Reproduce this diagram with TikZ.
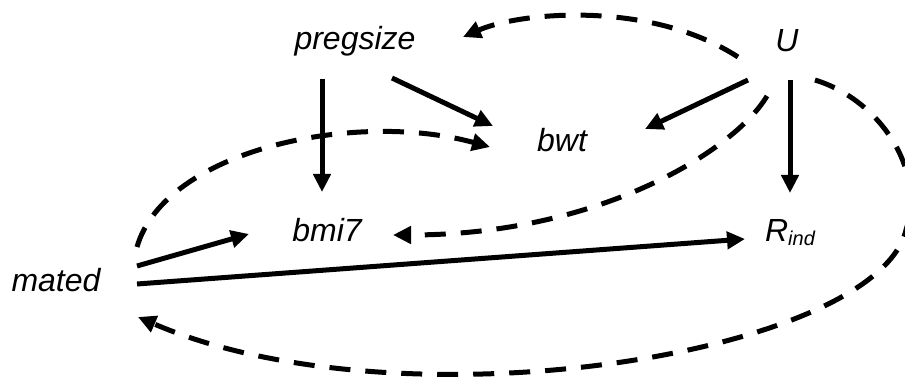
\documentclass[tikz,border=0pt]{standalone}
\usepackage{fontspec}
\setmainfont{Liberation Sans}
\usetikzlibrary{arrows.meta}
\tikzset{
  lbl/.style={font=\itshape\fontsize{32}{38}\selectfont, inner sep=0pt, anchor=base},
  edge/.style={line width=5pt, -{Triangle[length=18pt,width=17pt]}},
  dedge/.style={edge, dash pattern=on 21pt off 15pt},
}
\begin{document}
\begin{tikzpicture}[x=1pt,y=-1pt]
\useasboundingbox (0,0) rectangle (905,379);
\node[lbl] (pregsize) at (355,50) {pregsize};
\node[lbl] (U) at (787,52) {U};
\node[lbl] (bwt) at (562,152) {bwt};
\node[lbl] (bmi) at (327,242) {bmi7};
\node[lbl] (R) at (790,242) {R\raisebox{-0.12em}{\fontsize{20}{24}\selectfont ind}};
\node[lbl] (mated) at (56,292) {mated};
\coordinate (rbend) at (906,230);
% solid
\draw[edge] ([shift={(-33,29)}]pregsize.base) -- ([shift={(-5,-50)}]bmi.base);
\draw[edge] ([shift={(37,28)}]pregsize.base) -- ([shift={(-69,-26)}]bwt.base);
\draw[edge] ([shift={(-39,28)}]U.base) -- ([shift={(83,-23)}]bwt.base);
\draw[edge] ([shift={(3,28)}]U.base) -- ([shift={(0,-49)}]R.base);
\draw[edge] ([shift={(81,-26)}]mated.base) -- ([shift={(-78,-8)}]bmi.base);
\draw[edge] ([shift={(81,-8)}]mated.base) -- ([shift={(-45,-3)}]R.base);
% dashed
\draw[dedge] ([shift={(-49,5)}]U.base) .. controls (650,0) and (520,12) .. ([shift={(108,-13)}]pregsize.base);
\draw[dedge] ([shift={(-20,44)}]U.base) .. controls (735,150) and (600,235) .. ([shift={(66,-7)}]bmi.base);
\draw[dedge] ([shift={(81,-45)}]mated.base) .. controls (165,150) and (355,110) .. ([shift={(-72,-5)}]bwt.base);
\draw[dedge] ([shift={(28,28)}]U.base) .. controls (880,100) and (926,170) .. (rbend)
  .. controls (876,355) and (400,430) .. ([shift={(82,25)}]mated.base);
\end{tikzpicture}
\end{document}
